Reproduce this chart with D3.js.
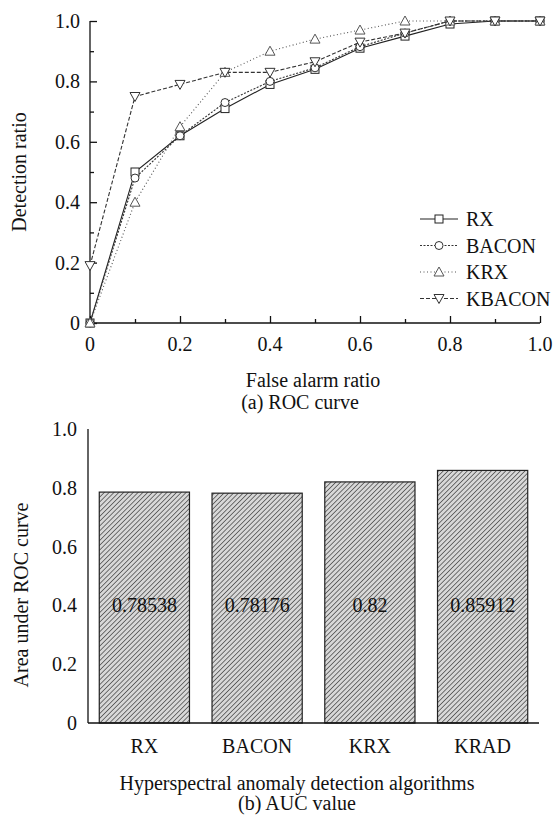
<!DOCTYPE html>
<html>
<head>
<meta charset="utf-8">
<script src="https://cdn.jsdelivr.net/npm/d3@7"></script>
<style>
  body { margin: 0; background: #fff; }
</style>
</head>
<body>
<div id="chart"></div>
<script>
// ROC data, false alarm ratio on x
var fpr = [0, 0.1, 0.2, 0.3, 0.4, 0.5, 0.6, 0.7, 0.8, 0.9, 1.0];
var rxRoc     = [0, 0.50, 0.62, 0.71, 0.79, 0.84, 0.91, 0.95, 0.99, 1.0, 1.0];
var baconRoc  = [0, 0.48, 0.62, 0.73, 0.80, 0.845, 0.915, 0.96, 1.0, 1.0, 1.0];
var krxRoc    = [0, 0.40, 0.65, 0.83, 0.90, 0.94, 0.97, 1.0, 1.0, 1.0, 1.0];
var kbaconRoc = [0.19, 0.75, 0.79, 0.83, 0.83, 0.865, 0.93, 0.96, 1.0, 1.0, 1.0];
var rocNames = ["RX", "BACON", "KRX", "KBACON"];

// AUC bars
var algos = ["RX", "BACON", "KRX", "KRAD"];
var aucValues = [0.78538, 0.78176, 0.82, 0.85912];
var aucLabels = ["0.78538", "0.78176", "0.82", "0.85912"];

var W = 557, H = 822;
var FONT = "Liberation Serif";
var svg = d3.select("#chart").append("svg")
    .attr("width", W).attr("height", H)
    .attr("font-family", FONT);

// every text gets the serif font directly
function txt(g) {
    return g.append("text").attr("font-family", FONT).attr("fill", "#111");
}

var defs = svg.append("defs");
var pat = defs.append("pattern")
    .attr("id", "hatch")
    .attr("patternUnits", "userSpaceOnUse")
    .attr("width", 3.4).attr("height", 3.4)
    .attr("patternTransform", "rotate(45)");
pat.append("rect").attr("width", 3.4).attr("height", 3.4).attr("fill", "#d8d8d8");
pat.append("line").attr("x1", 0).attr("y1", 0).attr("x2", 0).attr("y2", 3.4)
    .attr("stroke", "#333").attr("stroke-width", 1.3);

// ---------- (a) ROC curve ----------
var x = d3.scaleLinear().domain([0, 1]).range([90, 540]);
var y = d3.scaleLinear().domain([0, 1]).range([323, 21]);

var rocG = svg.append("g");

// axes: ticks pointing inward
var xAxis = rocG.append("g").attr("transform", "translate(0," + y(0) + ")")
    .call(d3.axisTop(x).tickValues(d3.range(0, 1.01, 0.1)).tickSize(6).tickFormat(""));
xAxis.selectAll(".tick line").attr("y2", function(d, i) { return i % 2 == 0 ? -7 : -4; });
xAxis.select(".domain").attr("d", "M" + x(0) + ",0H" + x(1));
xAxis.selectAll("path, line").attr("stroke", "#111").attr("stroke-width", 1.3);

var yAxis = rocG.append("g").attr("transform", "translate(" + x(0) + ",0)")
    .call(d3.axisRight(y).tickValues(d3.range(0, 1.01, 0.1)).tickSize(6).tickFormat(""));
yAxis.selectAll(".tick line").attr("x2", function(d, i) { return i % 2 == 0 ? 7 : 4; });
yAxis.select(".domain").attr("d", "M0," + y(0) + "V" + y(1));
yAxis.selectAll("path, line").attr("stroke", "#111").attr("stroke-width", 1.3);

var majors = [0, 0.2, 0.4, 0.6, 0.8, 1.0];
function fmt(d) { return d == 0 ? "0" : d3.format(".1f")(d); }
majors.forEach(function(d) {
    txt(rocG).attr("x", x(d)).attr("y", 351)
        .attr("text-anchor", "middle").attr("font-size", 20).text(fmt(d));
    txt(rocG).attr("x", 80).attr("y", y(d) + 7)
        .attr("text-anchor", "end").attr("font-size", 20).text(fmt(d));
});

txt(rocG).attr("x", 313).attr("y", 387).attr("text-anchor", "middle")
    .attr("font-size", 20).text("False alarm ratio");
txt(rocG).attr("x", 300).attr("y", 409).attr("text-anchor", "middle")
    .attr("font-size", 20).text("(a) ROC curve");
txt(rocG).attr("transform", "translate(26,172) rotate(-90)")
    .attr("text-anchor", "middle").attr("font-size", 20).text("Detection ratio");

var series = [
    { name: "RX", vals: rxRoc, dash: null, marker: "square", color: "#222" },
    { name: "BACON", vals: baconRoc, dash: "2,1.5", marker: "circle", color: "#333" },
    { name: "KRX", vals: krxRoc, dash: "1,2.5", marker: "up", color: "#555" },
    { name: "KBACON", vals: kbaconRoc, dash: "4,2", marker: "down", color: "#333" }
];

var line = d3.line()
    .x(function(d) { return x(d[0]); })
    .y(function(d) { return y(d[1]); });

function drawMarker(g, type, cx, cy, color) {
    if (type == "square") {
        g.append("rect").attr("x", cx - 4).attr("y", cy - 4).attr("width", 8).attr("height", 8)
            .attr("fill", "#fff").attr("stroke", color).attr("stroke-width", 1);
    } else if (type == "circle") {
        g.append("circle").attr("cx", cx).attr("cy", cy).attr("r", 4)
            .attr("fill", "#fff").attr("stroke", color).attr("stroke-width", 1);
    } else if (type == "up") {
        g.append("path").attr("d", "M" + cx + "," + (cy - 5) + "L" + (cx + 5) + "," + (cy + 4) + "L" + (cx - 5) + "," + (cy + 4) + "Z")
            .attr("fill", "#fff").attr("stroke", color).attr("stroke-width", 1);
    } else {
        g.append("path").attr("d", "M" + cx + "," + (cy + 5) + "L" + (cx + 5) + "," + (cy - 4) + "L" + (cx - 5) + "," + (cy - 4) + "Z")
            .attr("fill", "#fff").attr("stroke", color).attr("stroke-width", 1);
    }
}

series.forEach(function(s) {
    var pts = fpr.map(function(f, i) { return [f, s.vals[i]]; });
    rocG.append("path").datum(pts)
        .attr("d", line)
        .attr("fill", "none")
        .attr("stroke", s.color)
        .attr("stroke-width", 1.1)
        .attr("stroke-dasharray", s.dash);
});
series.forEach(function(s) {
    var mg = rocG.append("g");
    fpr.forEach(function(f, i) {
        drawMarker(mg, s.marker, x(f), y(s.vals[i]), s.color);
    });
});

// legend
var leg = rocG.append("g");
series.forEach(function(s, i) {
    var ly = 219 + i * 26.5;
    leg.append("line").attr("x1", 420).attr("x2", 458).attr("y1", ly).attr("y2", ly)
        .attr("stroke", s.color).attr("stroke-width", 1.1).attr("stroke-dasharray", s.dash);
    drawMarker(leg, s.marker, 439, ly, s.color);
    txt(leg).attr("x", 466).attr("y", ly + 7).attr("font-size", 20).text(s.name);
});

// ---------- (b) AUC value ----------
var xb = d3.scaleBand().domain(algos).range([88, 539]).paddingInner(0.2).paddingOuter(0.1);
var yb = d3.scaleLinear().domain([0, 1]).range([723, 429]);

var aucG = svg.append("g");

aucG.selectAll(".bar").data(algos).enter().append("rect")
    .attr("x", function(d) { return xb(d); })
    .attr("y", function(d, i) { return yb(aucValues[i]); })
    .attr("width", xb.bandwidth())
    .attr("height", function(d, i) { return yb(0) - yb(aucValues[i]); })
    .attr("fill", "url(#hatch)")
    .attr("stroke", "#222").attr("stroke-width", 1.2);

algos.forEach(function(d, i) {
    txt(aucG).attr("x", xb(d) + xb.bandwidth() / 2).attr("y", yb(0.4) + 7)
        .attr("text-anchor", "middle").attr("font-size", 20).text(aucLabels[i]);
    txt(aucG).attr("x", xb(d) + xb.bandwidth() / 2).attr("y", 753)
        .attr("text-anchor", "middle").attr("font-size", 20).text(d);
});

aucG.append("line").attr("x1", 88).attr("x2", 539).attr("y1", yb(0)).attr("y2", yb(0))
    .attr("stroke", "#111").attr("stroke-width", 1.3);
aucG.append("line").attr("x1", 88).attr("x2", 88).attr("y1", yb(0)).attr("y2", yb(1))
    .attr("stroke", "#111").attr("stroke-width", 1.3);

majors.forEach(function(d) {
    txt(aucG).attr("x", 77).attr("y", yb(d) + 7)
        .attr("text-anchor", "end").attr("font-size", 20).text(fmt(d));
});

txt(aucG).attr("x", 297).attr("y", 790).attr("text-anchor", "middle")
    .attr("font-size", 20).text("Hyperspectral anomaly detection algorithms");
txt(aucG).attr("x", 297).attr("y", 810).attr("text-anchor", "middle")
    .attr("font-size", 20).text("(b) AUC value");
txt(aucG).attr("transform", "translate(28,595) rotate(-90)")
    .attr("text-anchor", "middle").attr("font-size", 20).text("Area under ROC curve");
</script>
</body>
</html>
